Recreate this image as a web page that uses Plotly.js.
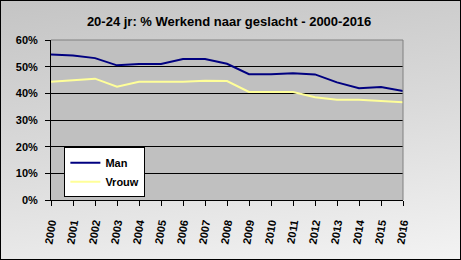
<!DOCTYPE html>
<html>
<head>
<meta charset="utf-8">
<script src="https://cdn.plot.ly/plotly-3.0.1.min.js"></script>
<style>
html,body{margin:0;padding:0;}
#wrap{position:relative;width:461px;height:260px;background:linear-gradient(172deg,#c4c4c4 0%,#dadada 50%,#f3f3f3 100%);}
#chart{position:absolute;left:0;top:0;width:461px;height:260px;}
#frame{position:absolute;left:0;top:0;width:461px;height:260px;box-sizing:border-box;border:1px solid #000;pointer-events:none;}
</style>
</head>
<body>
<div id="wrap"><div id="chart"></div><div id="frame"></div></div>
<script>
var years = [2000,2001,2002,2003,2004,2005,2006,2007,2008,2009,2010,2011,2012,2013,2014,2015,2016];
var man   = [54.6,54.2,53.2,50.5,51.0,51.0,52.9,52.9,51.1,47.2,47.2,47.5,47.1,44.1,41.9,42.4,40.9];
var vrouw = [44.3,44.8,45.5,42.5,44.3,44.3,44.3,44.7,44.6,40.5,40.5,40.5,38.5,37.6,37.6,37.2,36.7];
var yTicks = [0,10,20,30,40,50,60];
var yTickLabels = ['0%','10%','20%','30%','40%','50%','60%'];
var seriesNames = ['Man','Vrouw'];

var F = 'Liberation Sans, Arial, sans-serif';
var traces = [
  {x: years, y: man, name: seriesNames[0], type: 'scatter', mode: 'lines',
   line: {color: '#000080', width: 2}},
  {x: years, y: vrouw, name: seriesNames[1], type: 'scatter', mode: 'lines',
   line: {color: '#ffff99', width: 2}}
];
var layout = {
  width: 461, height: 260,
  margin: {l: 51, r: 58, t: 40, b: 60, pad: 0},
  paper_bgcolor: 'rgba(0,0,0,0)',
  plot_bgcolor: '#c0c0c0',
  showlegend: true,
  title: {text: '20-24 jr: % Werkend naar geslacht - 2000-2016',
          font: {family: F, size: 13, color: '#000', weight: 'bold'},
          xref: 'container', yref: 'container', x: 0.497, y: 0.917,
          xanchor: 'center', yanchor: 'middle'},
  xaxis: {range: [2000, 2016], tickvals: years, ticktext: years.map(String),
          tickangle: -80, ticks: 'outside', ticklen: 5, tickcolor: '#000', tickwidth: 1,
          ticklabelstandoff: 6,
          showline: true, linecolor: '#000', linewidth: 1, showgrid: false, zeroline: false,
          tickfont: {family: F, size: 11, color: '#000', weight: 'bold'}, fixedrange: true},
  yaxis: {range: [0, 60], tickvals: yTicks, ticktext: yTickLabels,
          ticks: 'outside', ticklen: 5, tickcolor: '#000', tickwidth: 1,
          ticklabelstandoff: 5,
          showline: true, linecolor: '#000', linewidth: 1,
          showgrid: true, gridcolor: '#000', gridwidth: 1, zeroline: false,
          tickfont: {family: F, size: 11, color: '#000', weight: 'bold'}, fixedrange: true},
  legend: {x: 0.038, y: 0.33, xanchor: 'left', yanchor: 'top',
           bgcolor: '#ffffff', bordercolor: '#000', borderwidth: 1,
           font: {family: F, size: 11, color: '#000', weight: 'bold'},
           tracegroupgap: 0, itemwidth: 30, entrywidth: 58, entrywidthmode: 'pixels'},
  shapes: [
    {type: 'line', xref: 'paper', yref: 'paper', x0: 0, x1: 1, y0: 1, y1: 1,
     line: {color: '#808080', width: 1}, layer: 'above'},
    {type: 'line', xref: 'paper', yref: 'paper', x0: 1, x1: 1, y0: 0, y1: 1,
     line: {color: '#808080', width: 1}, layer: 'above'}
  ]
};
Plotly.newPlot('chart', traces, layout, {displayModeBar: false, staticPlot: true});
</script>
</body>
</html>
